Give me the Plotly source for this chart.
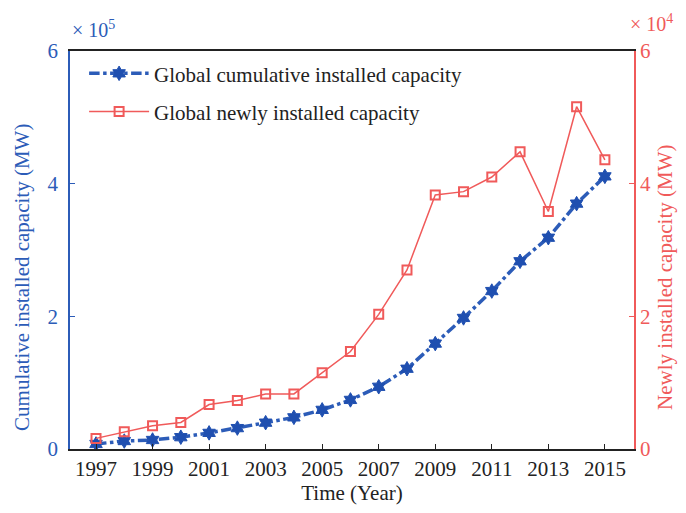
import plotly.graph_objects as go

years = list(range(1997, 2016))
cumulative_mw = [7600, 12000, 13600, 17800, 24300, 31500, 39700, 47700, 59000, 74000,
                 93800, 121000, 158900, 197600, 238100, 283000, 318500, 369900, 411000]
newly_mw = [1600, 2600, 3500, 4000, 6700, 7300, 8300, 8300, 11500, 14700,
            20300, 27000, 38300, 38800, 41000, 44800, 35800, 51600, 43600]
x_ticks = list(range(1997, 2016, 2))
left_ticks = [0, 200000, 400000, 600000]
left_labels = ["0", "2", "4", "6"]
right_ticks = [0, 20000, 40000, 60000]
right_labels = ["0", "2", "4", "6"]

BLUE = "#2c5cb8"
BLUE_M = "#1f4fb0"
RED = "#f05a5a"
FONT = "Liberation Serif"
FS = 21

fig = go.Figure()
fig.add_trace(go.Scatter(
    x=years, y=cumulative_mw, name="Global cumulative installed capacity",
    mode="lines+markers",
    line=dict(color=BLUE, width=3.5, dash="dashdot"),
    marker=dict(symbol="hexagram", size=11, color=BLUE_M, line=dict(color=BLUE_M, width=1)),
    yaxis="y", legend="legend",
))
fig.add_trace(go.Scatter(
    x=years, y=newly_mw, name="Global newly installed capacity",
    mode="lines+markers",
    line=dict(color=RED, width=1.5),
    marker=dict(symbol="square-open", size=9, color=RED, line=dict(color=RED, width=2)),
    yaxis="y2", legend="legend2",
))

fig.update_layout(
    width=686, height=513,
    margin=dict(l=62, r=60, t=43, b=72),
    paper_bgcolor="white", plot_bgcolor="white",
    font=dict(family=FONT, size=FS, color="#222"),
    xaxis=dict(
        range=[1996.08, 2016.03], tickmode="array", tickvals=x_ticks,
        ticks="inside", ticklen=5, tickcolor="#222", showgrid=False, zeroline=False,
        showline=True, linecolor="#222", linewidth=1.5, mirror=True,
        tickfont=dict(size=FS, color="#222"),
        title=dict(text="Time (Year)", font=dict(size=FS, color="#222"), standoff=2),
    ),
    yaxis=dict(
        range=[0, 600000], tickmode="array", tickvals=left_ticks, ticktext=left_labels,
        ticks="inside", ticklen=5, tickcolor=BLUE, showgrid=False, zeroline=False,
        showline=True, linecolor=BLUE, linewidth=1.5, ticklabelstandoff=6,
        tickfont=dict(size=FS, color=BLUE),
    ),
    yaxis2=dict(
        range=[0, 60000], tickmode="array", tickvals=right_ticks, ticktext=right_labels,
        overlaying="y", side="right",
        ticks="inside", ticklen=5, tickcolor=RED, showgrid=False, zeroline=False,
        showline=True, linecolor=RED, linewidth=1.5,
        tickfont=dict(size=FS, color=RED),
    ),
    legend=dict(
        x=0.025, y=0.943, xanchor="left", yanchor="middle", bgcolor="rgba(255,255,255,0)",
        font=dict(family=FONT, size=FS, color="#222"), itemwidth=60,
    ),
    legend2=dict(
        x=0.025, y=0.847, xanchor="left", yanchor="middle", bgcolor="rgba(255,255,255,0)",
        font=dict(family=FONT, size=FS, color="#222"), itemwidth=60,
    ),
    showlegend=True,
)

fig.add_annotation(text="Cumulative installed capacity (MW)", textangle=-90,
                   xref="paper", yref="paper", x=-0.085, y=0.43, xanchor="center", yanchor="middle",
                   showarrow=False, font=dict(family=FONT, size=FS, color=BLUE))
fig.add_annotation(text="Newly installed capacity (MW)", textangle=-90,
                   xref="paper", yref="paper", x=1.055, y=0.43, xanchor="center", yanchor="middle",
                   showarrow=False, font=dict(family=FONT, size=FS, color=RED))
fig.add_annotation(text="× 10<sup>5</sup>", xref="paper", yref="paper", x=0.0, y=1.02,
                   xanchor="left", yanchor="bottom", showarrow=False,
                   font=dict(family=FONT, size=20, color=BLUE))
fig.add_annotation(text="× 10<sup>4</sup>", xref="paper", yref="paper", x=0.99, y=1.035,
                   xanchor="left", yanchor="bottom", showarrow=False,
                   font=dict(family=FONT, size=20, color=RED))

fig.write_html("out.html")
